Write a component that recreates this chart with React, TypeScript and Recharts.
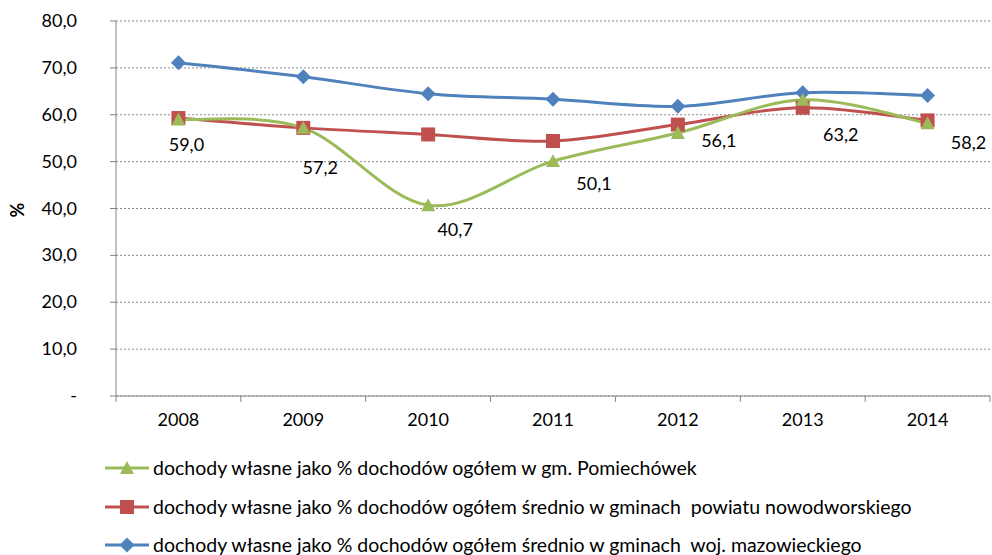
import React from "react";
import {
  LineChart,
  Line,
  XAxis,
  YAxis,
  CartesianGrid,
  LabelList,
} from "recharts";

const years = ["2008", "2009", "2010", "2011", "2012", "2013", "2014"];
const pomiechowek = [59.0, 57.2, 40.7, 50.1, 56.1, 63.2, 58.2];
const powiat = [59.3, 57.2, 55.8, 54.4, 57.9, 61.5, 58.8];
const mazowieckie = [71.1, 68.1, 64.5, 63.3, 61.8, 64.7, 64.1];
const yTicks = [0, 10, 20, 30, 40, 50, 60, 70, 80];

const seriesNames = [
  "dochody własne jako % dochodów ogółem w gm. Pomiechówek",
  "dochody własne jako % dochodów ogółem średnio w gminach  powiatu nowodworskiego",
  "dochody własne jako % dochodów ogółem średnio w gminach  woj. mazowieckiego",
];

const data = years.map((year, i) => ({
  year,
  pom: pomiechowek[i],
  pow: powiat[i],
  maz: mazowieckie[i],
}));

// label nudges for the green series (Excel had them placed by hand)
const labelNudge = [
  [8, 26], [17, 40], [27, 25], [41, 23], [41, 8], [38, 35], [41, 20],
];

const GREEN = "#9BBB59";
const RED = "#C0504D";
const BLUE = "#4F81BD";
const FONT = "Lato, 'Liberation Sans', sans-serif";

const W = 992;
const H = 430;
const PLOT_LEFT = 116;
const PLOT_RIGHT = 990;
const band = (PLOT_RIGHT - PLOT_LEFT) / years.length;

// catmull-rom like excel's smoothed lines
const smooth = (context: any) => {
  let pts: number[][] = [];
  return {
    areaStart() {},
    areaEnd() {},
    lineStart() {
      pts = [];
    },
    point(x: number, y: number) {
      pts.push([+x, +y]);
    },
    lineEnd() {
      if (!pts.length) return;
      context.moveTo(pts[0][0], pts[0][1]);
      const n = pts.length;
      for (let i = 0; i < n - 1; i++) {
        const p0 = pts[Math.max(i - 1, 0)];
        const p1 = pts[i];
        const p2 = pts[i + 1];
        const p3 = pts[Math.min(i + 2, n - 1)];
        const t = 1 / 6;
        context.bezierCurveTo(
          p1[0] + (p2[0] - p0[0]) * t,
          p1[1] + (p2[1] - p0[1]) * t,
          p2[0] - (p3[0] - p1[0]) * t,
          p2[1] - (p3[1] - p1[1]) * t,
          p2[0],
          p2[1]
        );
      }
    },
  };
};

const Triangle = ({ cx, cy, fill, s = 7 }: any) => (
  <path
    d={`M${cx},${cy - s} L${cx + s},${cy + s * 0.85} L${cx - s},${cy + s * 0.85} Z`}
    fill={fill}
  />
);
const Square = ({ cx, cy, fill, s = 7 }: any) => (
  <rect x={cx - s} y={cy - s} width={s * 2} height={s * 2} fill={fill} />
);
const Diamond = ({ cx, cy, fill, s = 7.5 }: any) => (
  <path
    d={`M${cx},${cy - s} L${cx + s},${cy} L${cx},${cy + s} L${cx - s},${cy} Z`}
    fill={fill}
  />
);

const fmt = (v: number) => (v === 0 ? "-" : v.toFixed(1).replace(".", ","));

const XTick = ({ x, y, payload, index }: any) => (
  <g>
    <line x1={x - band / 2} y1={y - 8} x2={x - band / 2} y2={y - 2} stroke="#868686" />
    {index === years.length - 1 && (
      <line x1={x + band / 2} y1={y - 8} x2={x + band / 2} y2={y - 2} stroke="#868686" />
    )}
    <text x={x} y={y + 22} textAnchor="middle" fontSize={18} fill="#000" fontFamily={FONT}>
      {payload.value}
    </text>
  </g>
);

const YTick = ({ y, payload }: any) => (
  <g>
    <line x1={PLOT_LEFT - 6} y1={y} x2={PLOT_LEFT} y2={y} stroke="#868686" />
    <text x={77} y={y + 6} textAnchor="end" fontSize={18} fill="#000" fontFamily={FONT}>
      {fmt(payload.value)}
    </text>
  </g>
);

const GreenLabel = ({ x, y, value, index }: any) => {
  const [dx, dy] = labelNudge[index] || [20, 25];
  return (
    <text
      x={x + dx}
      y={y + dy + 6}
      textAnchor="middle"
      fontSize={18}
      fill="#000"
      fontFamily={FONT}
    >
      {fmt(value)}
    </text>
  );
};

const legendItems = [
  { name: seriesNames[0], color: GREEN, Marker: Triangle },
  { name: seriesNames[1], color: RED, Marker: Square },
  { name: seriesNames[2], color: BLUE, Marker: Diamond },
];

export default function App() {
  return (
    <div style={{ position: "relative", width: W, height: 555, background: "#fff", overflow: "hidden" }}>
      <style>{"body{margin:0}"}</style>
      <LineChart
        width={W}
        height={H}
        data={data}
        margin={{ top: 21, right: W - PLOT_RIGHT, left: 0, bottom: 4 }}
      >
        <CartesianGrid vertical={false} stroke="#8c8c8c" strokeDasharray="2 2" />
        <XAxis
          dataKey="year"
          scale="band"
          height={30}
          stroke="#868686"
          tickLine={false}
          tick={<XTick />}
          interval={0}
        />
        <YAxis
          width={PLOT_LEFT}
          domain={[0, 80]}
          ticks={yTicks}
          interval={0}
          stroke="#868686"
          tickLine={false}
          tick={<YTick />}
          label={{
            content: () => (
              <text
                x={24}
                y={210}
                transform="rotate(-90 24 210)"
                textAnchor="middle"
                fontSize={18}
                fontWeight="bold"
                fontFamily={FONT}
                fill="#000"
              >
                %
              </text>
            ),
          }}
        />
        <Line
          dataKey="maz"
          type={smooth as any}
          stroke={BLUE}
          strokeWidth={3}
          dot={<Diamond fill={BLUE} />}
          isAnimationActive={false}
        />
        <Line
          dataKey="pow"
          type={smooth as any}
          stroke={RED}
          strokeWidth={3}
          dot={<Square fill={RED} />}
          isAnimationActive={false}
        />
        <Line
          dataKey="pom"
          type={smooth as any}
          stroke={GREEN}
          strokeWidth={3}
          dot={<Triangle fill={GREEN} />}
          isAnimationActive={false}
        >
          <LabelList dataKey="pom" content={<GreenLabel />} />
        </Line>
      </LineChart>
      {legendItems.map((item, i) => (
        <div
          key={item.name}
          style={{
            position: "absolute",
            left: 105,
            top: 457 + i * 38.5,
            height: 22,
            lineHeight: "22px",
            display: "flex",
            alignItems: "center",
            fontFamily: FONT,
            fontSize: 19.5,
            color: "#000",
            whiteSpace: "pre",
          }}
        >
          <svg width={45} height={20} style={{ marginRight: 3 }}>
            <line x1={0} y1={10} x2={44} y2={10} stroke={item.color} strokeWidth={3} />
            <item.Marker cx={22} cy={10} fill={item.color} />
          </svg>
          <span>{item.name}</span>
        </div>
      ))}
    </div>
  );
}
